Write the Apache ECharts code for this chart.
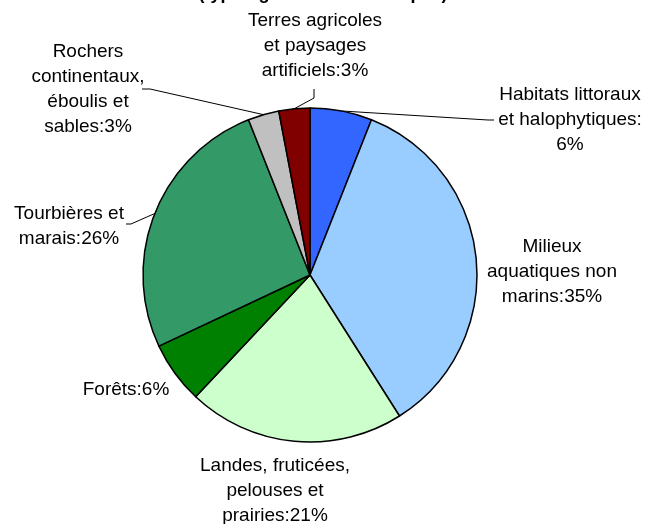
<!DOCTYPE html>
<html>
<head>
<meta charset="utf-8">
<script src="https://cdn.jsdelivr.net/npm/echarts@6/dist/echarts.min.js"></script>
<style>
  html, body { margin: 0; padding: 0; background: #fff; }
  #chart { width: 646px; height: 524px; }
</style>
</head>
<body>
<div id="chart"></div>
<script>
// data
const categories = [
  'Habitats littoraux\net halophytiques',
  'Milieux\naquatiques non\nmarins',
  'Landes, fruticées,\npelouses et\nprairies',
  'Forêts',
  'Tourbières et\nmarais',
  'Rochers\ncontinentaux,\néboulis et\nsables',
  'Terres agricoles\net paysages\nartificiels'
];
const values = [6, 35, 21, 6, 26, 3, 3];
const colors = ['#3366FF', '#99CCFF', '#CCFFCC', '#008000', '#339966', '#C0C0C0', '#800000'];

// label placement (centre of each text block) and end of its leader line
const labelPos = [[570, 120], [552, 272], [275, 491], [126, 390], [69, 226], [88, 89], [315, 46]];
const lineEnd = [[[488, 120], [494, 120]], null, null, null, [[131, 224], [126, 224]], [[150, 89], [142, 89]], [[314, 98], [314, 89]]];

const chart = echarts.init(document.getElementById('chart'));

const data = categories.map((name, i) => ({
  name,
  value: values[i],
  itemStyle: { color: colors[i] },
  label: i === 0 ? { formatter: '{b}:\n{d}%' } : {},
  labelLine: { show: lineEnd[i] !== null },
}));

chart.setOption({
  animation: false,
  title: {
    text: '(typologie CORINE Biotopes)',
    left: 'center',
    top: -20,
    textStyle: { fontFamily: 'Liberation Sans, Arial', fontSize: 18, fontWeight: 'bold', color: '#000' },
  },
  series: [
    {
      type: 'pie',
      center: [310, 275],
      radius: 167,
      startAngle: 90,
      clockwise: true,
      percentPrecision: 0,
      avoidLabelOverlap: false,
      emphasis: { disabled: true },
      itemStyle: { borderColor: '#000', borderWidth: 1.5 },
      label: {
        show: true,
        position: 'outside',
        formatter: '{b}:{d}%',
        fontFamily: 'Liberation Sans, Arial',
        fontSize: 19,
        lineHeight: 25,
        color: '#000',
        align: 'center',
      },
      labelLine: { show: true, length: 10, length2: 10, lineStyle: { color: '#000', width: 1 } },
      labelLayout: params => {
        const i = params.dataIndex;
        const out = { x: labelPos[i][0], y: labelPos[i][1], align: 'center', verticalAlign: 'middle' };
        if (lineEnd[i] && params.labelLinePoints) {
          out.labelLinePoints = [params.labelLinePoints[0], lineEnd[i][0], lineEnd[i][1]];
        }
        return out;
      },
      data,
    },
  ],
});
</script>
</body>
</html>
